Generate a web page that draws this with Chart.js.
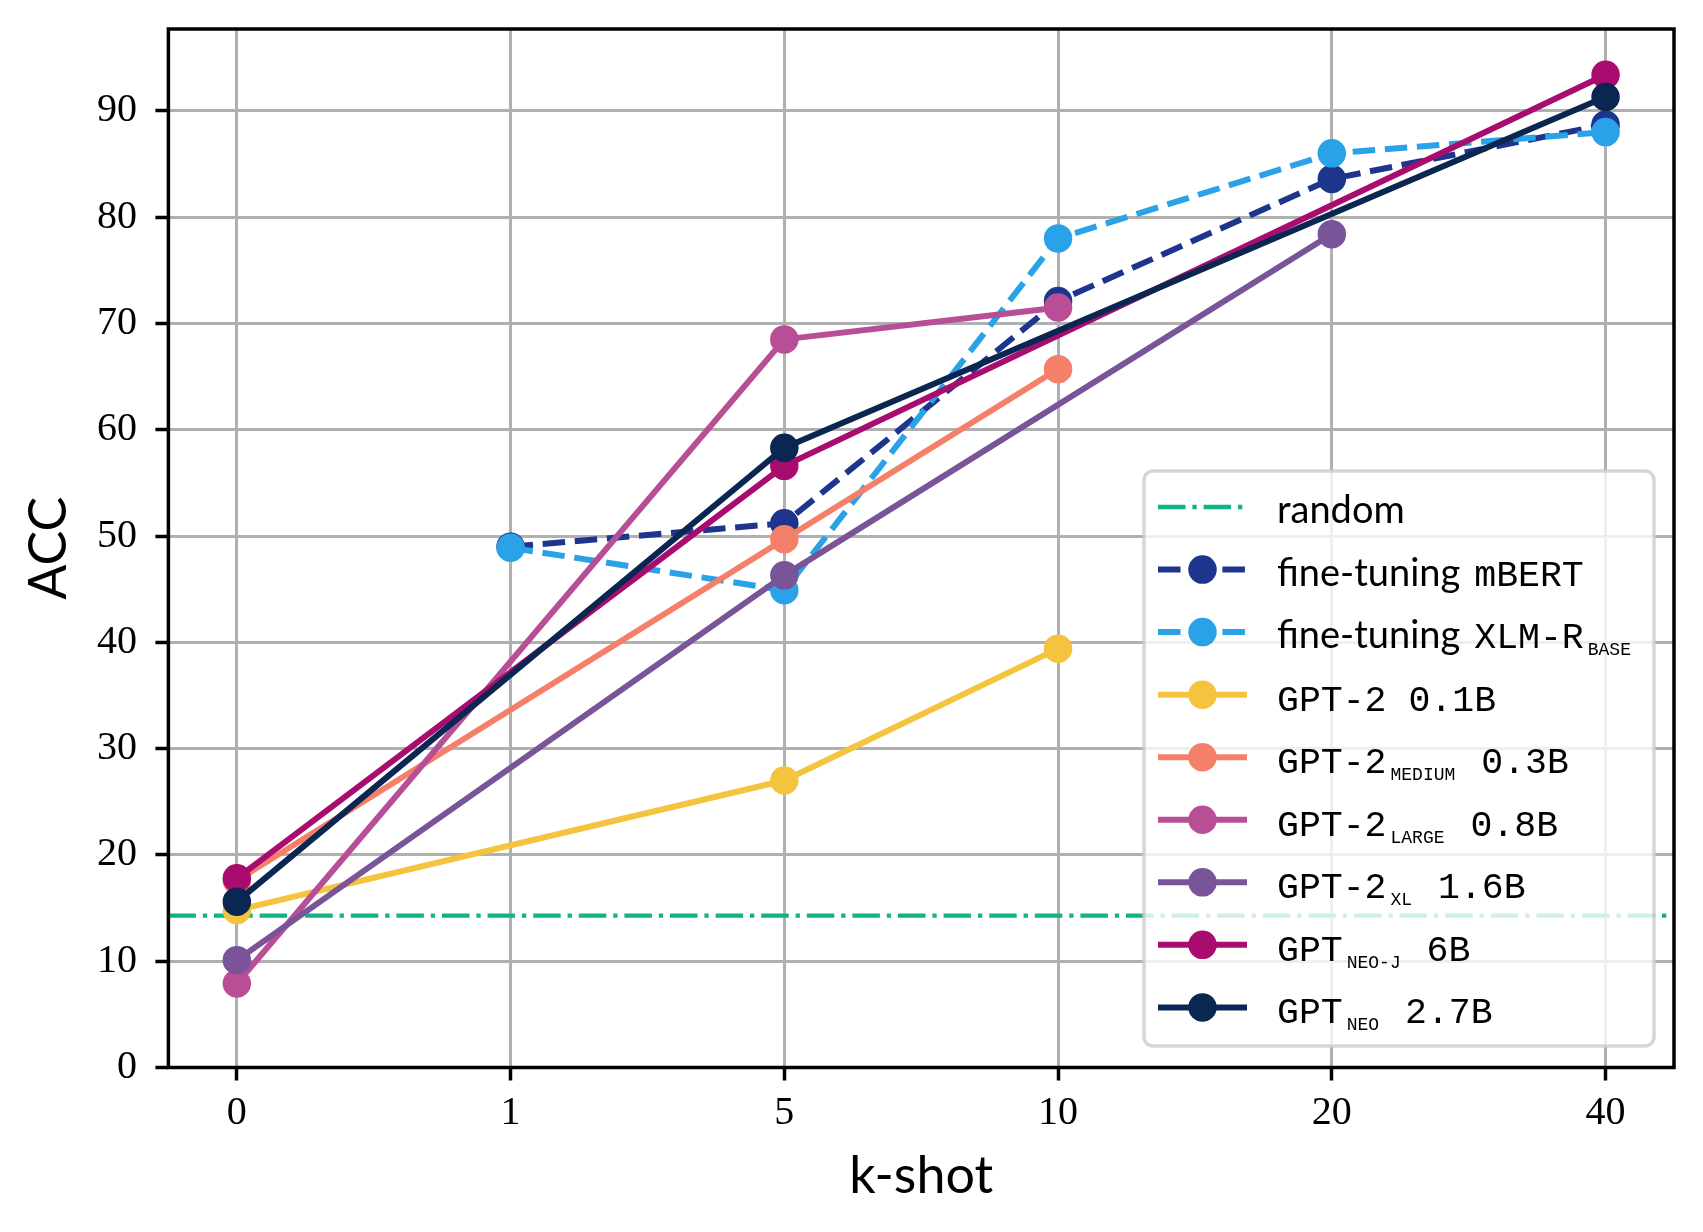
<!DOCTYPE html>
<html>
<head>
<meta charset="utf-8">
<script src="https://cdn.jsdelivr.net/npm/chart.js@4.4.1/dist/chart.umd.min.js"></script>
<style>
  html, body { margin: 0; padding: 0; background: #ffffff; }
  canvas { display: block; }
</style>
</head>
<body>
<canvas id="c" width="1703" height="1232"></canvas>
<script>
// ---- data ----
const categories = ['0', '1', '5', '10', '20', '40'];
const yTicks = [0, 10, 20, 30, 40, 50, 60, 70, 80, 90];
const randomBaseline = 14.29;
const mBERT      = [null, 49.0, 51.2, 72.1, 83.6, 88.7];
const xlmrBase   = [null, 48.9, 44.9, 78.0, 86.0, 88.0];
const gpt2Small  = [14.8, null, 27.0, 39.4, null, null];
const gpt2Medium = [17.6, null, 49.7, 65.7, null, null];
const gpt2Large  = [7.9,  null, 68.5, 71.5, null, null];
const gpt2XL     = [10.1, null, 46.3, null, 78.4, null];
const gptNeoJ    = [17.8, null, 56.6, null, null, 93.4];
const gptNeo     = [15.6, null, 58.3, null, null, 91.3];

const seriesLabels = [
  'random', 'fine-tuning mBERT', 'fine-tuning XLM-R BASE', 'GPT-2 0.1B',
  'GPT-2 MEDIUM 0.3B', 'GPT-2 LARGE 0.8B', 'GPT-2 XL 1.6B', 'GPT NEO-J 6B', 'GPT NEO 2.7B'
];
// legend text segments: [style, text]
const legendText = [
  [['sans', 'random']],
  [['sans', 'fine-tuning'], ['gap', ''], ['mono', 'mBERT']],
  [['sans', 'fine-tuning'], ['gap', ''], ['mono', 'XLM-R'], ['sub', 'BASE']],
  [['mono', 'GPT-2 0.1B']],
  [['mono', 'GPT-2'], ['sub', 'MEDIUM'], ['mono', ' 0.3B']],
  [['mono', 'GPT-2'], ['sub', 'LARGE'], ['mono', ' 0.8B']],
  [['mono', 'GPT-2'], ['sub', 'XL'], ['mono', ' 1.6B']],
  [['mono', 'GPT'], ['sub', 'NEO-J'], ['mono', ' 6B']],
  [['mono', 'GPT'], ['sub', 'NEO'], ['mono', ' 2.7B']]
];

// ---- styles ----
const colors = ['#0fb386', '#1e358e', '#2aa2e8', '#f4c43e', '#f4806a', '#b84f96', '#7a5499', '#a80c6e', '#0c2652'];
const LW = 6;
const DASH = [22.5, 9.7];
const DASHDOT = [27.5, 6.9, 4.3, 6.9];
const PR = 13.5;

function toPoints(arr) {
  return arr.map((v, i) => (v === null ? null : { x: i, y: v })).filter(p => p !== null);
}

const seriesValues = [mBERT, xlmrBase, gpt2Small, gpt2Medium, gpt2Large, gpt2XL, gptNeoJ, gptNeo];
const datasets = [];
datasets.push({
  label: seriesLabels[0],
  data: [{ x: -0.25, y: randomBaseline }, { x: 5.25, y: randomBaseline }],
  borderColor: colors[0], borderWidth: 4.3, borderDash: DASHDOT,
  pointRadius: 0, fill: false, order: 0, tension: 0
});
seriesValues.forEach((vals, k) => {
  const i = k + 1;
  const dashed = i <= 2;
  datasets.push({
    label: seriesLabels[i],
    data: toPoints(vals),
    borderColor: colors[i],
    backgroundColor: colors[i],
    pointBackgroundColor: colors[i],
    pointBorderColor: colors[i],
    pointBorderWidth: 1.5,
    pointRadius: PR,
    borderWidth: LW,
    borderDash: dashed ? DASH : [],
    borderCapStyle: dashed ? 'butt' : 'square',
    borderJoinStyle: 'round',
    fill: false, tension: 0,
    order: -i
  });
});

const SERIF = '"Liberation Serif", "DejaVu Serif", serif';
const SANS = 'Lato, "Open Sans", sans-serif';
const MONO = '"Liberation Mono", "DejaVu Sans Mono", monospace';

const framePlugin = {
  id: 'frame',
  afterDatasetsDraw(chart) {
    const a = chart.chartArea, ctx = chart.ctx;
    ctx.save();
    ctx.strokeStyle = '#000';
    ctx.lineWidth = 3.5;
    ctx.setLineDash([]);
    ctx.strokeRect(a.left, a.top, a.right - a.left, a.bottom - a.top);
    ctx.restore();
  }
};

const legendPlugin = {
  id: 'innerLegend',
  afterDraw(chart) {
    const ctx = chart.ctx;
    const box = { l: 1144, t: 471, r: 1654, b: 1046, rad: 9 };
    ctx.save();
    ctx.beginPath();
    ctx.roundRect(box.l, box.t, box.r - box.l, box.b - box.t, box.rad);
    ctx.fillStyle = 'rgba(255,255,255,0.8)';
    ctx.fill();
    ctx.lineWidth = 3.5;
    ctx.strokeStyle = 'rgba(204,204,204,0.8)';
    ctx.stroke();

    const row0 = 507, rowH = 62.55;
    const hx0 = 1161, hx1 = 1244, mx = 1202.5, tx = 1277;
    chart.data.datasets.forEach((ds, i) => {
      const cy = row0 + i * rowH;
      ctx.save();
      ctx.strokeStyle = ds.borderColor;
      ctx.lineWidth = ds.borderWidth;
      const dashed = ds.borderDash && ds.borderDash.length;
      ctx.setLineDash(ds.borderDash || []);
      ctx.lineCap = dashed ? 'butt' : 'square';
      ctx.beginPath();
      ctx.moveTo(dashed ? hx0 - 3 : hx0, cy);
      ctx.lineTo(dashed ? hx1 + 3 : hx1, cy);
      ctx.stroke();
      ctx.setLineDash([]);
      if (ds.pointRadius > 0) {
        ctx.beginPath();
        ctx.arc(mx, cy, ds.pointRadius + ds.pointBorderWidth / 2, 0, Math.PI * 2);
        ctx.fillStyle = ds.pointBackgroundColor;
        ctx.fill();
      }
      ctx.restore();

      // text
      let x = tx;
      const base = cy + 16;
      ctx.fillStyle = '#000';
      ctx.textBaseline = 'alphabetic';
      ctx.textAlign = 'left';
      legendText[i].forEach(([style, t]) => {
        if (style === 'sans') {
          ctx.font = '38px ' + SANS;
          ctx.fillText(t, x, base);
          x += ctx.measureText(t).width;
        } else if (style === 'gap') {
          x += 14;
        } else if (style === 'mono') {
          ctx.font = '36.5px ' + MONO;
          ctx.fillText(t, x, base);
          x += ctx.measureText(t).width;
        } else if (style === 'sub') {
          x += 4;
          ctx.font = '18px ' + MONO;
          ctx.fillText(t, x, base + 7);
          x += ctx.measureText(t).width + 4;
        }
      });
    });
    ctx.restore();
  }
};

new Chart(document.getElementById('c').getContext('2d'), {
  type: 'line',
  data: { datasets },
  options: {
    responsive: false,
    animation: false,
    devicePixelRatio: 1,
    events: [],
    layout: { padding: { top: 29, right: 29, left: 0, bottom: 0 } },
    plugins: { legend: { display: false }, tooltip: { enabled: false } },
    scales: {
      x: {
        type: 'linear', min: -0.25, max: 5.25,
        afterBuildTicks: s => { s.ticks = categories.map((c, i) => ({ value: i })); },
        afterFit: s => { s.height = 1232 - 1067.5; s.paddingLeft = 0; s.paddingRight = 0; },
        ticks: {
          callback: v => categories[v],
          font: { family: SERIF, size: 40 }, color: '#000',
          padding: 9, maxRotation: 0, autoSkip: false
        },
        grid: { color: '#b0b0b0', lineWidth: 3, tickLength: 13, tickColor: '#000', tickWidth: 3.5 },
        border: { display: false },
        title: {
          display: true, text: 'k-shot', color: '#000',
          font: { family: SANS, size: 52 }, padding: { top: 0, bottom: 24.5 }
        }
      },
      y: {
        type: 'linear', min: 0, max: 97.7,
        afterBuildTicks: s => { s.ticks = yTicks.map(v => ({ value: v })); },
        afterFit: s => { s.width = 168.4; s.paddingTop = 0; s.paddingBottom = 0; },
        ticks: {
          font: { family: SERIF, size: 40 }, color: '#000', padding: 18.5
        },
        grid: { color: '#b0b0b0', lineWidth: 3, tickLength: 13, tickColor: '#000', tickWidth: 3.5 },
        border: { display: false },
        title: {
          display: true, text: 'ACC', color: '#000',
          font: { family: SANS, size: 52 }, padding: { top: 18, bottom: 0 }
        }
      }
    }
  },
  plugins: [framePlugin, legendPlugin]
});
</script>
</body>
</html>
